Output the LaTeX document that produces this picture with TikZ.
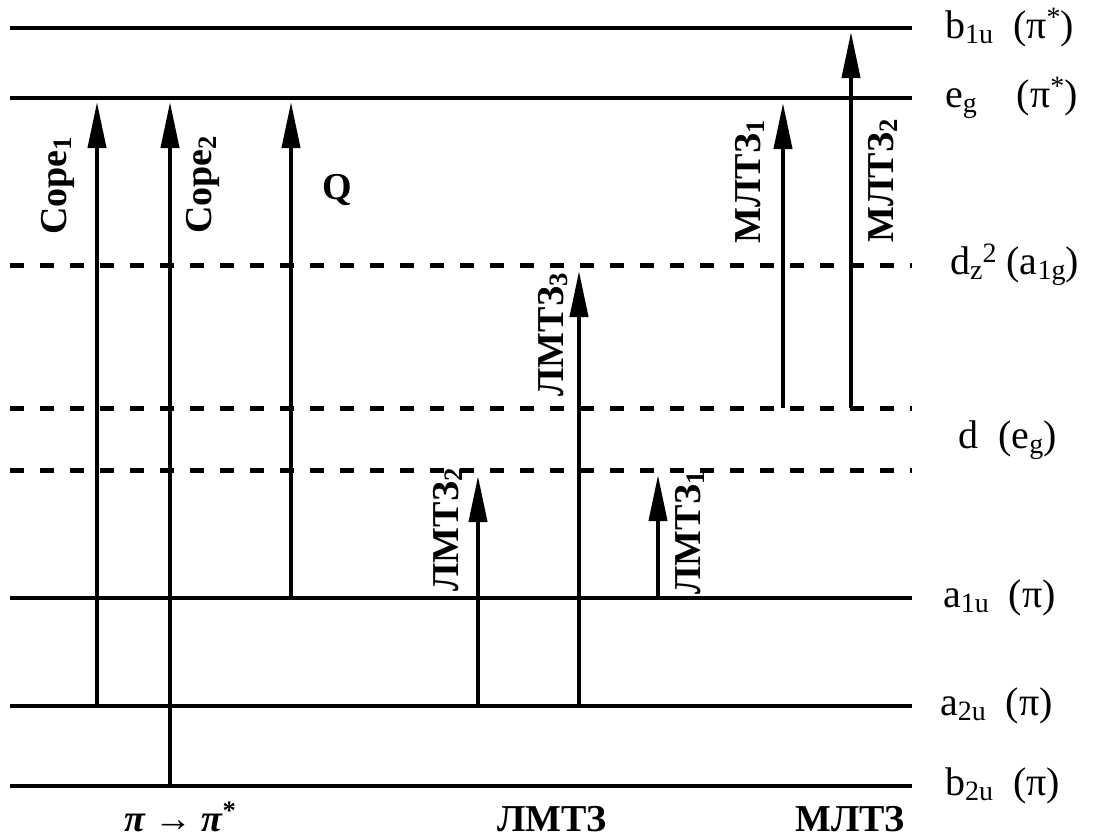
\documentclass[tikz,border=0pt]{standalone}
\usepackage{fontspec}
\usepackage{graphicx}
\setmainfont{Liberation Serif}
\usetikzlibrary{arrows.meta}
\newcommand\lsub[1]{\raisebox{-0.12em}{\scalebox{0.7}{#1}}}
\newcommand\rsup[1]{\raisebox{0.3em}{\scalebox{0.7}{#1}}}
\begin{document}
\begin{tikzpicture}[x=1pt,y=-1pt,
 level/.style={line width=4.5pt},
 dlevel/.style={line width=5pt, dash pattern=on 14pt off 16pt},
 trans/.style={line width=4pt, -{Triangle[length=46pt,width=18pt]}},
 tlabel/.style={font=\fontsize{38}{40}\selectfont\bfseries, rotate=90, inner sep=0pt},
 rlabel/.style={font=\fontsize{40}{42}\selectfont, anchor=west, inner sep=0pt},
 blabel/.style={font=\fontsize{38}{40}\selectfont\bfseries, inner sep=0pt}]
\useasboundingbox (0,0) rectangle (1096,838);
% level end points
\coordinate (b1uL) at (10,28);  \coordinate (b1uR) at (912,28);
\coordinate (egL)  at (10,98);  \coordinate (egR)  at (912,98);
\coordinate (dzL)  at (10,265); \coordinate (dzR)  at (912,265);
\coordinate (d1L)  at (10,408); \coordinate (d1R)  at (912,408);
\coordinate (d2L)  at (10,470); \coordinate (d2R)  at (912,470);
\coordinate (a1uL) at (10,598); \coordinate (a1uR) at (912,598);
\coordinate (a2uL) at (10,706); \coordinate (a2uR) at (912,706);
\coordinate (b2uL) at (10,786); \coordinate (b2uR) at (912,786);
\draw[level] (b1uL) -- (b1uR);
\draw[level] (egL) -- (egR);
\draw[dlevel] (dzL) -- (dzR);
\draw[dlevel] (d1L) -- (d1R);
\draw[dlevel] (d2L) -- (d2R);
\draw[level] (a1uL) -- (a1uR);
\draw[level] (a2uL) -- (a2uR);
\draw[level] (b2uL) -- (b2uR);
% transitions
\coordinate (c1s) at (97,706);  \coordinate (c1e) at (97,102);
\coordinate (c2s) at (170,786); \coordinate (c2e) at (170,102);
\coordinate (qs)  at (291,598); \coordinate (qe)  at (291,102);
\coordinate (l2s) at (478,706); \coordinate (l2e) at (478,476);
\coordinate (l3s) at (579,706); \coordinate (l3e) at (579,271);
\coordinate (l1s) at (658,598); \coordinate (l1e) at (658,475);
\coordinate (m1s) at (783,408); \coordinate (m1e) at (783,103);
\coordinate (m2s) at (851,408); \coordinate (m2e) at (851,32);
\draw[trans] (c1s) -- (c1e);
\draw[trans] (c2s) -- (c2e);
\draw[trans] (qs) -- (qe);
\draw[trans] (l2s) -- (l2e);
\draw[trans] (l3s) -- (l3e);
\draw[trans] (l1s) -- (l1e);
\draw[trans] (m1s) -- (m1e);
\draw[trans] (m2s) -- (m2e);
% transition labels
\node[tlabel] (tc1) at (58,186) {Cope\lsub{1}};
\node[tlabel] (tc2) at (203,185) {Cope\lsub{2}};
\node[blabel] (tq) at (337,190) {Q};
\node[tlabel] (tl3) at (553,335) {ЛМТЗ\lsub{3}};
\node[tlabel] (tl2) at (448,530) {ЛМТЗ\lsub{2}};
\node[tlabel] (tl1) at (690,533) {ЛМТЗ\lsub{1}};
\node[tlabel] (tm1) at (750,182) {МЛТЗ\lsub{1}};
\node[tlabel] (tm2) at (883,181) {МЛТЗ\lsub{2}};
% level labels
\node[rlabel] (rb1u) at (945,28) {b\lsub{1u}\ \ (π\rsup{*})};
\node[rlabel] (reg) at (945,98) {e\lsub{g}\ \ \ \ (π\rsup{*})};
\node[rlabel] (rdz) at (950,265) {d\lsub{z}\rsup{2}\ (a\lsub{1g})};
\node[rlabel] (rd) at (958,440) {d\ \ (e\lsub{g})};
\node[rlabel] (ra1u) at (943,598) {a\lsub{1u}\ \ (π)};
\node[rlabel] (ra2u) at (940,706) {a\lsub{2u}\ \ (π)};
\node[rlabel] (rb2u) at (945,786) {b\lsub{2u}\ \ (π)};
% bottom labels
\node[blabel, anchor=base] (bpi) at (180,831) {{\itshape π} {\mdseries →} {\itshape π}\rsup{*}};
\node[blabel, anchor=base] (blm) at (552,831) {ЛМТЗ};
\node[blabel, anchor=base] (bml) at (850,831) {МЛТЗ};
\end{tikzpicture}
\end{document}
